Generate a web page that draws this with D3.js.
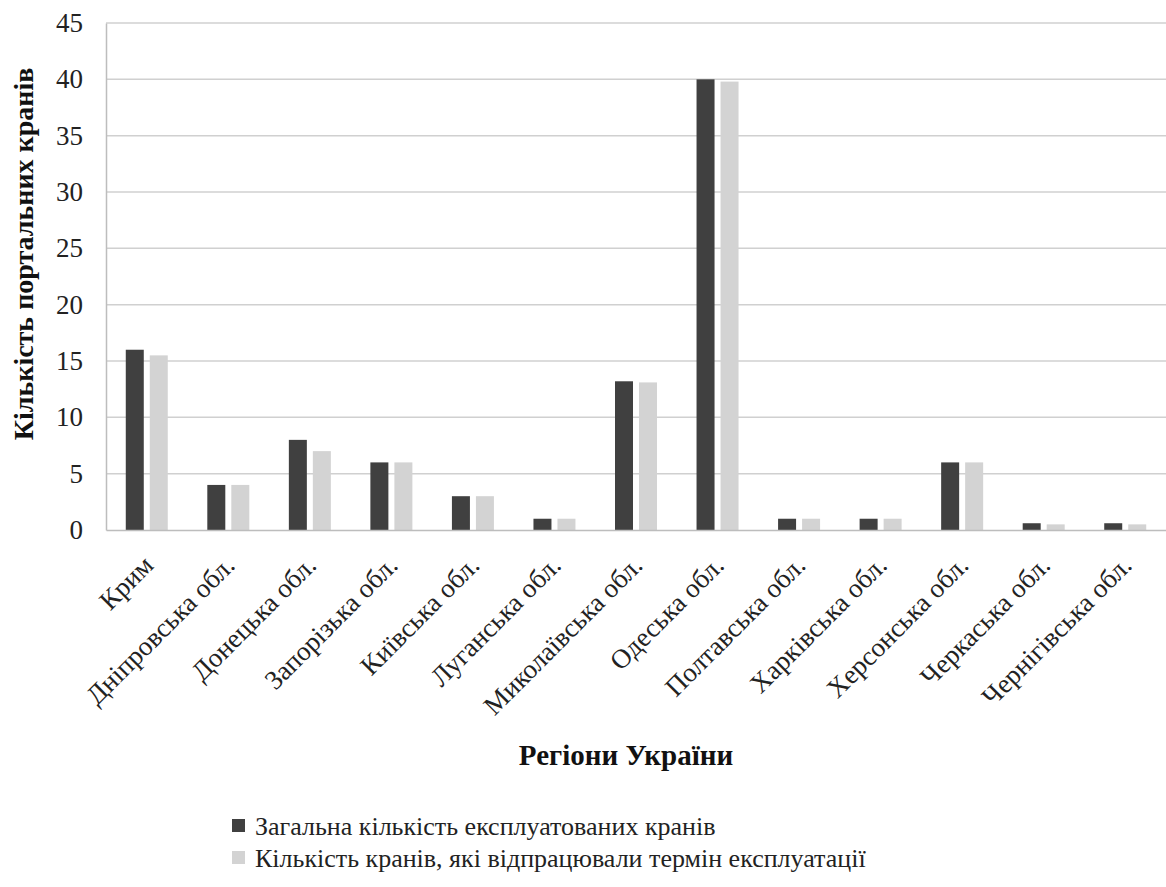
<!DOCTYPE html>
<html><head><meta charset="utf-8">
<script src="https://cdn.jsdelivr.net/npm/d3@7"></script>
<style>body{margin:0;background:#fff;}</style>
</head><body>
<script>
const categories = ["Крим","Дніпровська обл.","Донецька обл.","Запорізька обл.","Київська обл.","Луганська обл.","Миколаївська обл.","Одеська обл.","Полтавська обл.","Харківська обл.","Херсонська обл.","Черкаська обл.","Чернігівська обл."];
const totalCranes = [16, 4, 8, 6, 3, 1, 13.2, 40, 1, 1, 6, 0.6, 0.6];
const expiredCranes = [15.5, 4, 7, 6, 3, 1, 13.1, 39.8, 1, 1, 6, 0.5, 0.5];
const seriesNames = ["Загальна кількість експлуатованих кранів","Кількість кранів, які відпрацювали термін експлуатації"];
const yTicks = [0,5,10,15,20,25,30,35,40,45];
const colors = ["#404040","#d3d3d3"];

const W = 1166, H = 887;
const m = {left:106, right:0, top:23, bottom:357};
const svg = d3.select("body").append("svg").attr("width",W).attr("height",H)
  .attr("font-family","Liberation Serif");

const x = d3.scaleBand().domain(categories).range([m.left, W-m.right]);
const y = d3.scaleLinear().domain([0,45]).range([H-m.bottom, m.top]);

function serif(sel){ return sel.attr("font-family","Liberation Serif").style("font-family",'"Liberation Serif"'); }

// gridlines
svg.append("g").selectAll("line").data(yTicks.filter(d=>d>0)).join("line")
  .attr("x1",m.left).attr("x2",W-m.right)
  .attr("y1",d=>y(d)).attr("y2",d=>y(d))
  .attr("stroke","#d0d0d0").attr("stroke-width",1.5);

// y axis
const yAxis = svg.append("g").attr("transform",`translate(${m.left},0)`)
  .call(d3.axisLeft(y).tickValues(yTicks).tickSize(0).tickPadding(23));
serif(yAxis);
yAxis.select(".domain").attr("stroke","#bdbdbd").attr("stroke-width",1.5);
serif(yAxis.selectAll("text")).attr("font-size",27).attr("fill","#222");

// bars
const bw = 18, gap = 6;
const series = [totalCranes, expiredCranes];
series.forEach((vals,i)=>{
  svg.append("g").selectAll("rect").data(vals).join("rect")
    .attr("x",(d,j)=>x(categories[j])+x.bandwidth()/2 + (i===0 ? -bw-gap/2 : gap/2))
    .attr("y",d=>y(d)).attr("width",bw).attr("height",d=>y(0)-y(d))
    .attr("fill",colors[i]);
});

// x axis
const xAxis = svg.append("g").attr("transform",`translate(0,${y(0)})`)
  .call(d3.axisBottom(x).tickSize(0).tickFormat(""));
xAxis.select(".domain").attr("stroke","#bdbdbd").attr("stroke-width",1.5);

serif(svg.append("g").selectAll("text").data(categories).join("text"))
  .attr("transform",d=>`translate(${x(d)+x.bandwidth()/2+8},${y(0)+37}) rotate(-45)`)
  .attr("text-anchor","end").attr("font-size",27).attr("fill","#222")
  .text(d=>d);

// axis titles
serif(svg.append("text")).attr("transform",`translate(33,254) rotate(-90)`)
  .attr("text-anchor","middle").attr("font-size",28).attr("font-weight","bold").attr("fill","#111")
  .text("Кількість портальних кранів");
serif(svg.append("text")).attr("x",626).attr("y",765).attr("text-anchor","middle")
  .attr("font-size",29).attr("font-weight","bold").attr("fill","#111")
  .text("Регіони України");

// legend
const lg = svg.append("g");
seriesNames.forEach((n,i)=>{
  const yy = 835 + i*32;
  lg.append("rect").attr("x",232).attr("y",yy-16).attr("width",13).attr("height",13).attr("fill",colors[i]);
  serif(lg.append("text")).attr("x",255).attr("y",yy).attr("font-size",26).attr("fill","#222").text(n);
});
</script>
</body></html>
